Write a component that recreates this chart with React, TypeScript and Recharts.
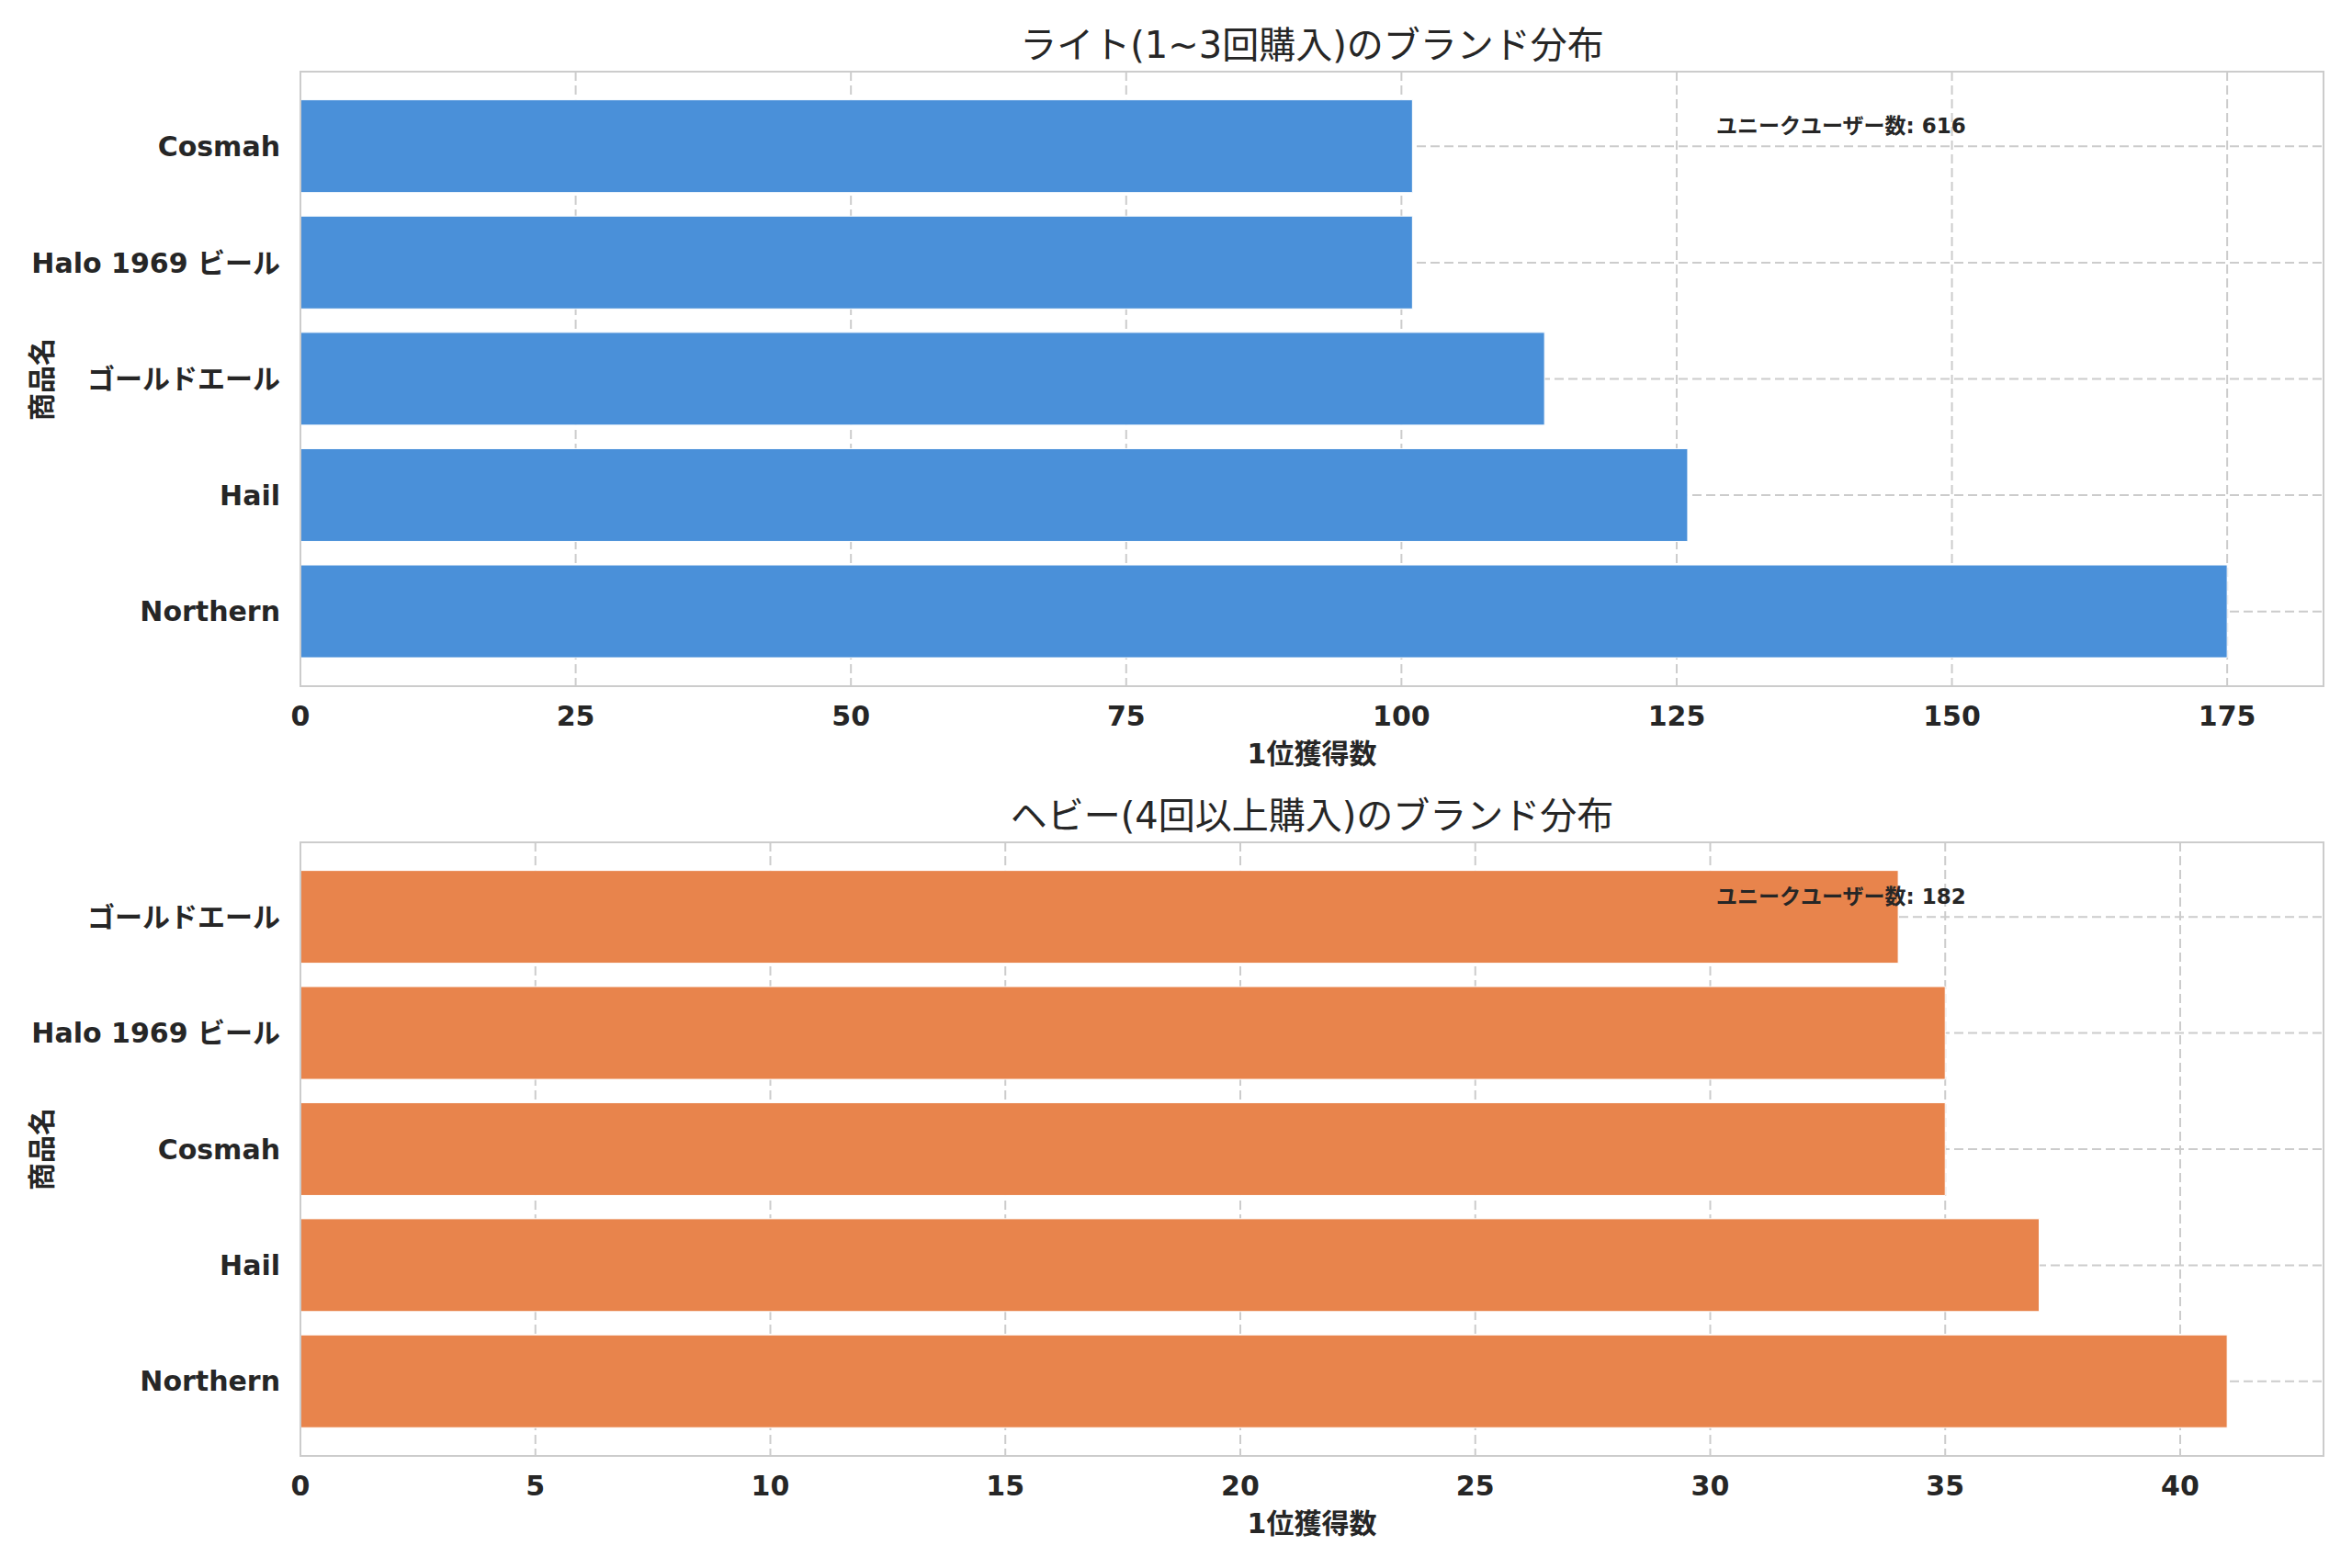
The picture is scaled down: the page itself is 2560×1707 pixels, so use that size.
import { BarChart, Bar, XAxis, YAxis, CartesianGrid } from "recharts";

// light users (1~3 purchases)
const lightBrands = ["Cosmah", "Halo 1969 ビール", "ゴールドエール", "Hail", "Northern"];
const lightCounts = [101, 101, 113, 126, 175];
const lightTicks = [0, 25, 50, 75, 100, 125, 150, 175];
const lightTotal = 616;

// heavy users (4+ purchases)
const heavyBrands = ["ゴールドエール", "Halo 1969 ビール", "Cosmah", "Hail", "Northern"];
const heavyCounts = [34, 35, 35, 37, 41];
const heavyTicks = [0, 5, 10, 15, 20, 25, 30, 35, 40];
const heavyTotal = 182;

const titles = ["ライト(1~3回購入)のブランド分布", "ヘビー(4回以上購入)のブランド分布"];
const xLabel = "1位獲得数";
const yLabel = "商品名";
const totalLabel = "ユニークユーザー数";

const FONT = "'DejaVu Sans', 'Noto Sans CJK JP', sans-serif";
const INK = "#262626";
const LIGHT = "#cccccc";

const W = 2560;
const PLOT_LEFT = 327;
const PLOT_RIGHT = 2529;
const PLOT_CX = (PLOT_LEFT + PLOT_RIGHT) / 2;
const SPINE = 2.5;

interface PanelProps {
  brands: string[];
  counts: number[];
  ticks: number[];
  total: number;
  color: string;
  title: string;
  top: number;
  height: number;
  plotTop: number;
  plotBottom: number;
}

function Centered({ x, y, size, weight, rotate, children }: {
  x: number; y: number; size: number; weight?: number | string; rotate?: boolean; children: React.ReactNode;
}) {
  return (
    <div
      style={{
        position: "absolute",
        left: x,
        top: y,
        transform: `translate(-50%, -50%)${rotate ? " rotate(-90deg)" : ""}`,
        fontFamily: FONT,
        fontSize: size,
        fontWeight: weight ?? "normal",
        color: INK,
        whiteSpace: "nowrap",
        lineHeight: 1,
      }}
    >
      {children}
    </div>
  );
}

function Panel({ brands, counts, ticks, total, color, title, top, height, plotTop, plotBottom }: PanelProps) {
  const rows = brands.map((name, i) => ({ name, value: counts[i] }));
  const xMax = Math.max(...counts) * 1.05;
  const tickStyle = { fill: INK, fontSize: 30, fontWeight: "bold", fontFamily: FONT };

  return (
    <div style={{ position: "absolute", left: 0, top, width: W, height }}>
      <BarChart
        width={W}
        height={height}
        data={rows}
        layout="vertical"
        margin={{ top: plotTop - top, right: W - PLOT_RIGHT, left: 0, bottom: 0 }}
        barCategoryGap="10%"
      >
        <CartesianGrid stroke={LIGHT} strokeWidth={2} strokeDasharray="10 5" />
        <XAxis
          type="number"
          dataKey="value"
          domain={[0, xMax]}
          allowDataOverflow
          ticks={ticks}
          interval={0}
          height={top + height - plotBottom}
          tick={tickStyle}
          tickLine={false}
          tickMargin={16}
          axisLine={false}
        />
        <YAxis
          type="category"
          dataKey="name"
          width={PLOT_LEFT}
          padding={{ top: 18, bottom: 18 }}
          tick={tickStyle}
          tickLine={false}
          tickMargin={16}
          axisLine={false}
          interval={0}
        />
        <Bar dataKey="value" fill={color} stroke="#ffffff" strokeWidth={1} isAnimationActive={false} />
      </BarChart>
      {/* axes frame (spines) */}
      <div
        style={{
          position: "absolute",
          boxSizing: "border-box",
          left: PLOT_LEFT - SPINE / 2,
          top: plotTop - top - SPINE / 2,
          width: PLOT_RIGHT - PLOT_LEFT + SPINE,
          height: plotBottom - plotTop + SPINE,
          border: `${SPINE}px solid ${LIGHT}`,
          pointerEvents: "none",
        }}
      />
      <Centered x={PLOT_CX} y={plotTop - top - 29} size={40}>{title}</Centered>
      <Centered x={46} y={(plotTop + plotBottom) / 2 - top} size={30} weight="bold" rotate>{yLabel}</Centered>
      <Centered x={PLOT_CX} y={plotBottom - top + 74} size={30} weight="bold">{xLabel}</Centered>
      <div
        style={{
          position: "absolute",
          left: 1868,
          top: plotTop - top + 59,
          transform: "translateY(-50%)",
          fontFamily: FONT,
          fontSize: 23,
          fontWeight: "bold",
          color: INK,
          whiteSpace: "nowrap",
          lineHeight: 1,
        }}
      >
        {`${totalLabel}: ${total}`}
      </div>
    </div>
  );
}

export default function App() {
  return (
    <div style={{ position: "absolute", left: 0, top: 0, width: W, height: 1707, background: "#ffffff" }}>
      <Panel
        brands={lightBrands}
        counts={lightCounts}
        ticks={lightTicks}
        total={lightTotal}
        color="#4a90d9"
        title={titles[0]}
        top={0}
        height={853}
        plotTop={78}
        plotBottom={747}
      />
      <Panel
        brands={heavyBrands}
        counts={heavyCounts}
        ticks={heavyTicks}
        total={heavyTotal}
        color="#e8844c"
        title={titles[1]}
        top={853}
        height={854}
        plotTop={917}
        plotBottom={1585}
      />
    </div>
  );
}
